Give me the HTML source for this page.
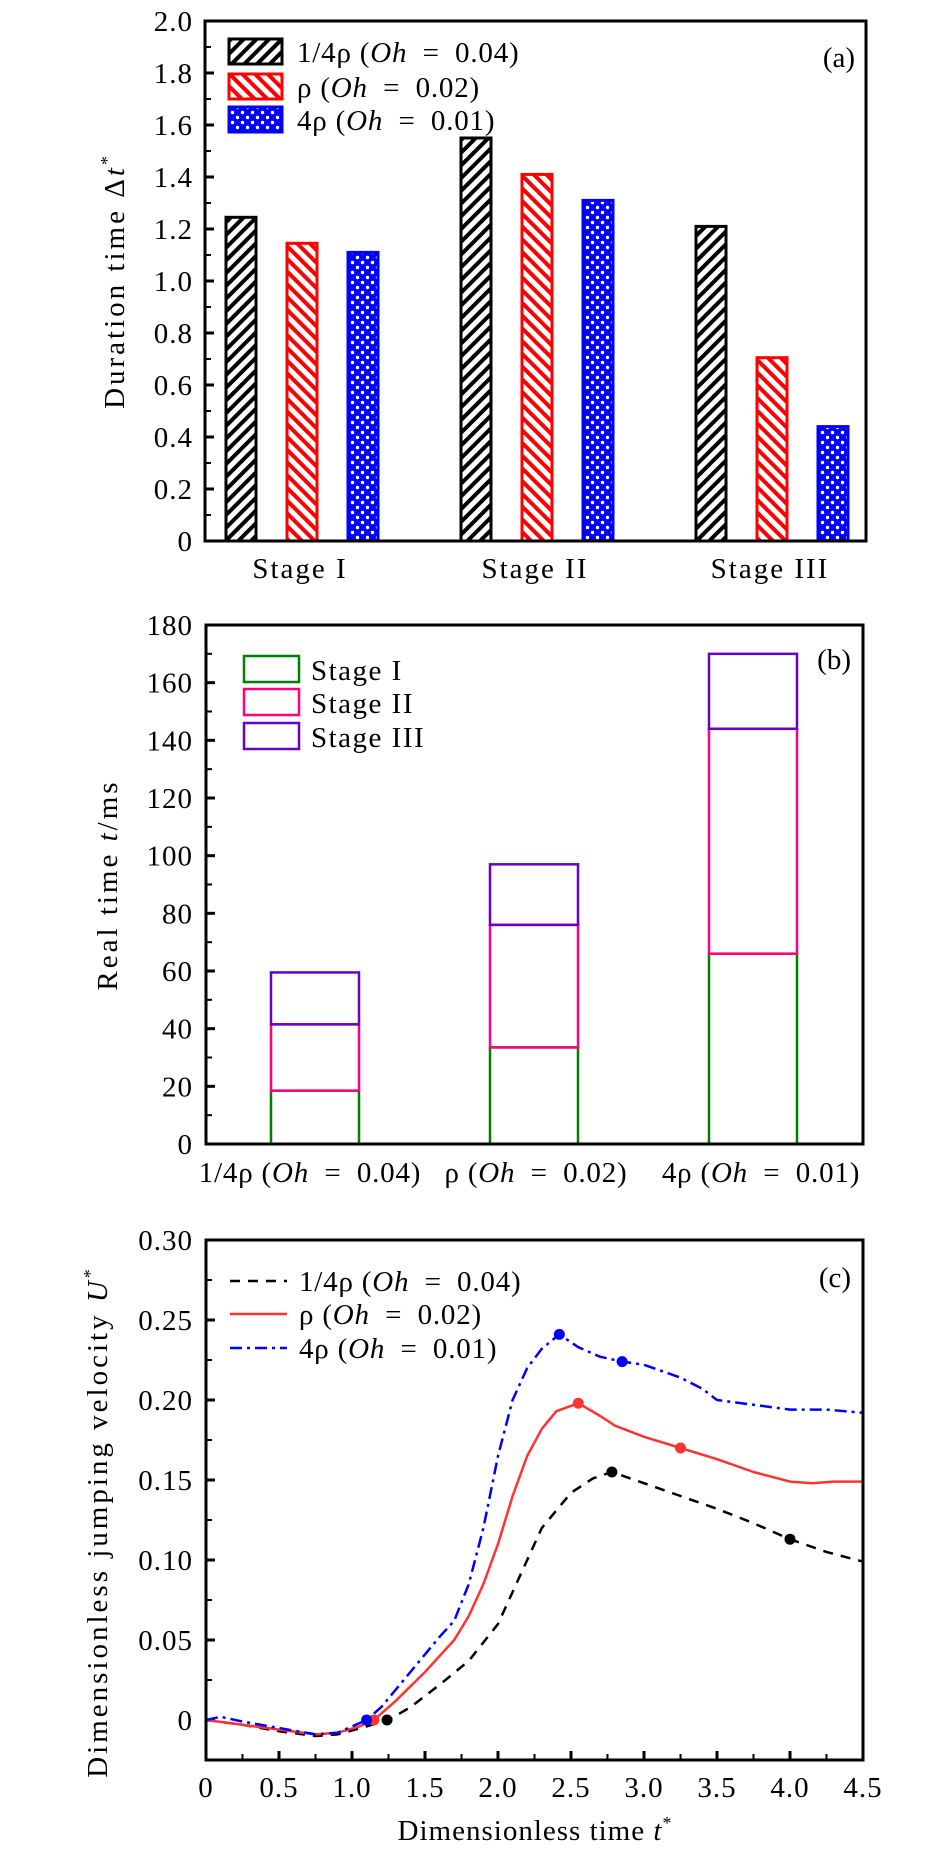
<!DOCTYPE html>
<html><head><meta charset="utf-8"><style>
html,body{margin:0;padding:0;background:#fff;}
svg{display:block;font-family:"Liberation Serif",serif;}
</style></head><body>
<svg id="fig" width="945" height="1855" viewBox="0 0 945 1855" xmlns="http://www.w3.org/2000/svg">
<defs>
<pattern id="hatchBlack" patternUnits="userSpaceOnUse" width="9" height="9" patternTransform="rotate(45)"><rect width="9" height="9" fill="#fff"/><rect width="4" height="9" fill="#000"/></pattern>
<pattern id="hatchRed" patternUnits="userSpaceOnUse" width="9" height="9" patternTransform="rotate(-45)"><rect width="9" height="9" fill="#fff"/><rect width="4" height="9" fill="#f00"/></pattern>
<pattern id="dotsBlue" patternUnits="userSpaceOnUse" width="10" height="10"><rect width="10" height="10" fill="#00f"/><circle cx="2.5" cy="2.5" r="1.7" fill="#fff"/><circle cx="7.5" cy="7.5" r="1.7" fill="#fff"/></pattern>
</defs>
<g id="pa"></g>
<g id="pb"></g>
<g id="pc"></g>
</svg>
<script>
// Panel (a)
const aStages = ["Stage I","Stage II","Stage III"];
const aSeriesLabels = ["1/4ρ","ρ","4ρ"];
const aOh = ["0.04","0.02","0.01"];
const aQuarter = [1.245, 1.55, 1.21];
const aRho = [1.145, 1.41, 0.705];
const aFour = [1.11, 1.31, 0.44];
const aTicks = [0,0.2,0.4,0.6,0.8,1.0,1.2,1.4,1.6,1.8,2.0];
// Panel (b)
const bCats = ["1/4ρ","ρ","4ρ"];
const bStage1 = [18.5, 33.5, 66];
const bStage2 = [41.5, 76, 144];
const bStage3 = [59.5, 97, 170];
const bTicks = [0,20,40,60,80,100,120,140,160,180];
// Panel (c)
const cTicksX = [0,0.5,1.0,1.5,2.0,2.5,3.0,3.5,4.0,4.5];
const cTicksY = [0,0.05,0.10,0.15,0.20,0.25,0.30];
const cBlackT = [0,0.25,0.5,0.75,0.9,1.1,1.25,1.4,1.6,1.8,2.0,2.1,2.2,2.3,2.5,2.65,2.78,3.0,3.25,3.5,3.75,4.0,4.25,4.5];
const cBlackU = [0,-0.003,-0.007,-0.01,-0.009,-0.004,0,0.008,0.022,0.037,0.06,0.08,0.1,0.12,0.142,0.151,0.155,0.148,0.14,0.132,0.123,0.113,0.105,0.099];
const cRedT = [0,0.25,0.5,0.75,0.9,1.05,1.15,1.3,1.5,1.7,1.8,1.9,2.0,2.1,2.2,2.3,2.4,2.55,2.7,2.8,3.0,3.25,3.5,3.75,4.0,4.15,4.3,4.5];
const cRedU = [0,-0.003,-0.006,-0.009,-0.008,-0.004,0,0.012,0.03,0.05,0.065,0.085,0.11,0.14,0.165,0.182,0.193,0.198,0.19,0.184,0.177,0.17,0.163,0.155,0.149,0.148,0.149,0.149];
const cBlueT = [0,0.1,0.25,0.5,0.75,0.9,1.0,1.1,1.2,1.4,1.6,1.7,1.8,1.9,2.0,2.1,2.2,2.3,2.42,2.55,2.7,2.85,3.0,3.25,3.4,3.5,3.75,4.0,4.25,4.5];
const cBlueU = [0,0.002,-0.001,-0.005,-0.009,-0.008,-0.004,0,0.008,0.03,0.052,0.062,0.085,0.12,0.165,0.2,0.22,0.232,0.241,0.233,0.227,0.224,0.222,0.214,0.207,0.2,0.197,0.194,0.194,0.192];
const cBlackMT = [1.24,2.78,4.0], cBlackMU = [0,0.155,0.113];
const cRedMT = [1.15,2.55,3.25], cRedMU = [0,0.198,0.17];
const cBlueMT = [1.1,2.42,2.85], cBlueMU = [0,0.241,0.224];

const FS=29;
const NS="http://www.w3.org/2000/svg";
function mk(parent,tag,attrs,text){const e=document.createElementNS(NS,tag);for(const k in attrs)e.setAttribute(k,attrs[k]);if(text!==undefined)e.textContent=text;parent.appendChild(e);return e;}
function ohLabel(parent,x,y,pre,val,name){
  const t=mk(parent,'text',{x:x,y:y,'font-size':FS,'letter-spacing':0.8});
  
  
  mk(t,'tspan',{},pre+" (");mk(t,'tspan',{'font-style':'italic'},"Oh");mk(t,'tspan',{},"\u2002=\u2002"+val+")");
  return t;
}

// ---------- Panel A ----------
(function(){
const g=document.getElementById('pa');
const L=205,R=866,T=21,B=541;
const y=v=>B-(v/2.0)*(B-T);
const groupC=[302,537,772];
const offs=[-61,0,61];
const fills=["url(#hatchBlack)","url(#hatchRed)","url(#dotsBlue)"];
const strokes=["#000","#f00","#00f"];
const series=[aQuarter,aRho,aFour];
series.forEach((arr,s)=>arr.forEach((v,i)=>{
  const cx=groupC[i]+offs[s];
  const r=mk(g,'rect',{x:cx-15,y:y(v),width:30,height:B-y(v),fill:fills[s],stroke:strokes[s],'stroke-width':3});
  
  
}));
aTicks.forEach((v,i)=>{
  const l=mk(g,'line',{x1:L,x2:L+9,y1:y(v),y2:y(v),stroke:'#000','stroke-width':3});
  
  if(i<aTicks.length-1){const m=mk(g,'line',{x1:L,x2:L+6,y1:y(v+0.1),y2:y(v+0.1),stroke:'#000','stroke-width':2});}
  const t=mk(g,'text',{x:193,y:y(v)+10,'text-anchor':'end','font-size':FS,'letter-spacing':1},v===0?"0":v.toFixed(1));
  
});
const f=mk(g,'rect',{x:L,y:T,width:R-L,height:B-T,fill:'none',stroke:'#000','stroke-width':3});

aStages.forEach((s,i)=>{const t=mk(g,'text',{x:groupC[i]-2,y:578,'text-anchor':'middle','font-size':FS,'letter-spacing':2},s);});
const yt=mk(g,'text',{x:0,y:0,'text-anchor':'middle','font-size':FS,'letter-spacing':3,transform:'translate(124,281) rotate(-90)'});

mk(yt,'tspan',{},"Duration time Δ");mk(yt,'tspan',{'font-style':'italic'},"t");mk(yt,'tspan',{dy:-11,'font-size':18},"*");
const pl=mk(g,'text',{x:855,y:67,'text-anchor':'end','font-size':FS},"(a)");
const ly=[38,73,106];
series.forEach((_,s)=>{
  const lg=mk(g,'g',{});
  mk(lg,'rect',{x:229,y:ly[s]+1,width:53,height:25,fill:fills[s],stroke:strokes[s],'stroke-width':3});
  ohLabel(lg,297,ly[s]+24,aSeriesLabels[s],aOh[s],'legend-label');
});
})();

// ---------- Panel B ----------
(function(){
const g=document.getElementById('pb');
const L=206,R=863,T=625,B=1144;
const y=v=>B-(v/180)*(B-T);
const cx=[315,534,753];
const colors=["#008000","#ff007f","#6a00c8"];
bCats.forEach((c,i)=>{
  const levels=[0,bStage1[i],bStage2[i],bStage3[i]];
  for(let s=0;s<3;s++){
    const r=mk(g,'rect',{x:cx[i]-44,y:y(levels[s+1]),width:88,height:y(levels[s])-y(levels[s+1]),fill:'none',stroke:colors[s],'stroke-width':2.5});
    
    
  }
});
bTicks.forEach((v,i)=>{
  const l=mk(g,'line',{x1:L,x2:L+9,y1:y(v),y2:y(v),stroke:'#000','stroke-width':3});
  if(i<bTicks.length-1){const m=mk(g,'line',{x1:L,x2:L+6,y1:y(v+10),y2:y(v+10),stroke:'#000','stroke-width':2});}
  const t=mk(g,'text',{x:193,y:y(v)+10,'text-anchor':'end','font-size':FS,'letter-spacing':1},String(v));
});
const f=mk(g,'rect',{x:L,y:T,width:R-L,height:B-T,fill:'none',stroke:'#000','stroke-width':3});
bCats.forEach((c,i)=>{const t=ohLabel(g,cx[i]+(i===0?-5:i===1?2:8),1182,c,aOh[i],'x-tick-label');t.setAttribute('text-anchor','middle');});
const yt=mk(g,'text',{x:0,y:0,'text-anchor':'middle','font-size':FS,'letter-spacing':3,transform:'translate(117,885) rotate(-90)'});

mk(yt,'tspan',{},"Real time ");mk(yt,'tspan',{'font-style':'italic'},"t");mk(yt,'tspan',{},"/ms");
const pl=mk(g,'text',{x:851,y:669,'text-anchor':'end','font-size':FS},"(b)");
const names=["Stage I","Stage II","Stage III"], ly=[656,689,723];
names.forEach((n,s)=>{
  const lg=mk(g,'g',{});
  mk(lg,'rect',{x:244,y:ly[s],width:55,height:26,fill:'none',stroke:colors[s],'stroke-width':2.5});
  mk(lg,'text',{x:311,y:ly[s]+24,'font-size':FS,'letter-spacing':1.5},n);
});
})();

// ---------- Panel C ----------
(function(){
const g=document.getElementById('pc');
const L=206,R=863,T=1240,B=1760;
const x=v=>L+(v/4.5)*(R-L);
const ymin=-0.025,ymax=0.30;
const y=v=>B-((v-ymin)/(ymax-ymin))*(B-T);
cTicksX.forEach((v,i)=>{
  const l=mk(g,'line',{x1:x(v),x2:x(v),y1:B,y2:B-9,stroke:'#000','stroke-width':3});
  if(i<cTicksX.length-1){const m=mk(g,'line',{x1:x(v+0.25),x2:x(v+0.25),y1:B,y2:B-6,stroke:'#000','stroke-width':2});}
  const t=mk(g,'text',{x:x(v),y:1797,'text-anchor':'middle','font-size':FS,'letter-spacing':1},v===0?"0":v.toFixed(1));
});
cTicksY.forEach((v,i)=>{
  const l=mk(g,'line',{x1:L,x2:L+9,y1:y(v),y2:y(v),stroke:'#000','stroke-width':3});
  if(i<cTicksY.length-1){const m=mk(g,'line',{x1:L,x2:L+6,y1:y(v+0.025),y2:y(v+0.025),stroke:'#000','stroke-width':2});}
  const t=mk(g,'text',{x:193,y:y(v)+10,'text-anchor':'end','font-size':FS,'letter-spacing':1},v===0?"0":v.toFixed(2));
});
function path(ts,us){return ts.map((t,i)=>(i?'L':'M')+x(t).toFixed(1)+','+y(us[i]).toFixed(1)).join(' ');}
const sets=[[cBlackT,cBlackU,'#000','10,8',cBlackMT,cBlackMU,'series-quarter-rho'],[cRedT,cRedU,'#f33','',cRedMT,cRedMU,'series-rho'],[cBlueT,cBlueU,'#00f','12,5,3,5',cBlueMT,cBlueMU,'series-four-rho']];
sets.forEach(s=>{
  const p=mk(g,'path',{d:path(s[0],s[1]),fill:'none',stroke:s[2],'stroke-width':2.5,'stroke-dasharray':s[3],'stroke-linejoin':'round'});
  
  s[4].forEach((t,i)=>{const c=mk(g,'circle',{cx:x(t),cy:y(s[5][i]),r:5.5,fill:s[2]});});
});
const f=mk(g,'rect',{x:L,y:T,width:R-L,height:B-T,fill:'none',stroke:'#000','stroke-width':3});
const xt=mk(g,'text',{x:535,y:1840,'text-anchor':'middle','font-size':FS,'letter-spacing':1});
mk(xt,'tspan',{},"Dimensionless time ");mk(xt,'tspan',{'font-style':'italic'},"t");mk(xt,'tspan',{dy:-11,'font-size':18},"*");
const yt=mk(g,'text',{x:0,y:0,'text-anchor':'middle','font-size':FS,'letter-spacing':3,transform:'translate(107,1522) rotate(-90)'});

mk(yt,'tspan',{},"Dimensionless jumping velocity ");mk(yt,'tspan',{'font-style':'italic'},"U");mk(yt,'tspan',{dy:-11,'font-size':18},"*");
const pl=mk(g,'text',{x:851,y:1287,'text-anchor':'end','font-size':FS},"(c)");
const ly=[1281,1314,1348];
sets.forEach((s,i)=>{
  const lg=mk(g,'g',{});
  mk(lg,'line',{x1:230,x2:287,y1:ly[i],y2:ly[i],stroke:s[2],'stroke-width':2.5,'stroke-dasharray':s[3]});
  ohLabel(lg,299,ly[i]+10,aSeriesLabels[i],aOh[i],'legend-label');
});
})();
</script>
</body></html>
